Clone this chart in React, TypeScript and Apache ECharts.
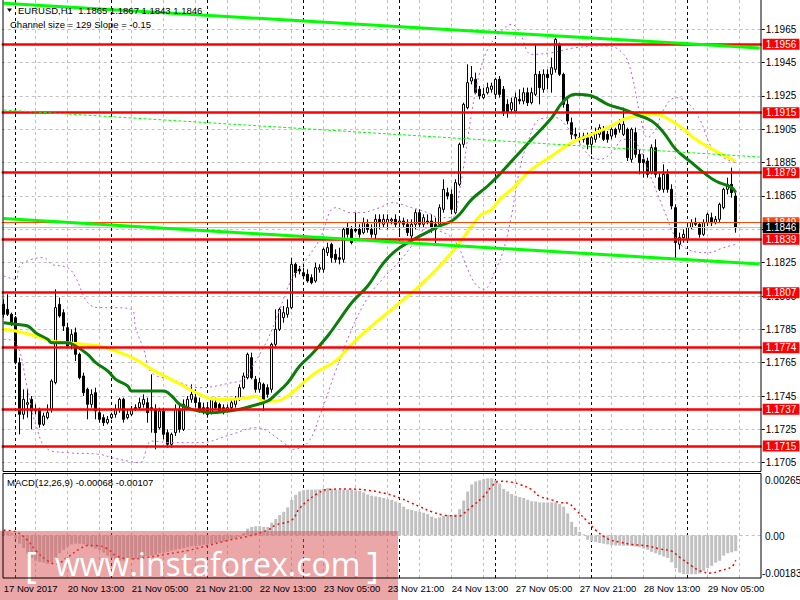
import React, { useEffect, useRef } from "react";
import * as echarts from "echarts";

const symbolName = "EURUSD,H1";
const lastQuote = { open: 1.1865, high: 1.1867, low: 1.1843, close: 1.1846 };
const channelText = "Channel size = 129 Slope = -0.15";

// hourly candles: [open, close, low, high]
const candles: number[][] = [
  [1.1800,1.1794,1.1792,1.1803],[1.1797,1.1794,1.1793,1.1806],[1.1794,1.1789,1.1787,1.1795],[1.1792,1.1765,1.1764,1.1793],[1.1765,1.1734,1.1722,1.1768],
  [1.1734,1.1743,1.1731,1.1749],[1.1740,1.1741,1.1732,1.1749],[1.1743,1.1736,1.1725,1.1745],[1.1737,1.1736,1.1734,1.1740],[1.1737,1.1728,1.1726,1.1738],
  [1.1728,1.1733,1.1727,1.1735],[1.1732,1.1735,1.1731,1.1740],[1.1737,1.1754,1.1735,1.1755],[1.1753,1.1798,1.1752,1.1809],[1.1800,1.1793,1.1792,1.1804],
  [1.1795,1.1787,1.1784,1.1797],[1.1786,1.1775,1.1774,1.1789],[1.1776,1.1782,1.1773,1.1785],[1.1783,1.1770,1.1766,1.1786],[1.1770,1.1756,1.1755,1.1771],
  [1.1757,1.1747,1.1745,1.1759],[1.1749,1.1740,1.1731,1.1750],[1.1740,1.1746,1.1738,1.1749],[1.1747,1.1736,1.1731,1.1750],[1.1735,1.1731,1.1729,1.1738],
  [1.1732,1.1729,1.1727,1.1734],[1.1729,1.1731,1.1728,1.1733],[1.1732,1.1734,1.1731,1.1735],[1.1734,1.1737,1.1732,1.1740],[1.1737,1.1743,1.1735,1.1744],
  [1.1743,1.1731,1.1729,1.1744],[1.1732,1.1734,1.1731,1.1737],[1.1734,1.1737,1.1733,1.1739],[1.1738,1.1737,1.1736,1.1740],[1.1738,1.1741,1.1737,1.1744],
  [1.1740,1.1743,1.1738,1.1746],[1.1741,1.1735,1.1729,1.1744],[1.1738,1.1737,1.1723,1.1758],[1.1737,1.1723,1.1713,1.1740],[1.1726,1.1736,1.1725,1.1738],
  [1.1736,1.1722,1.1719,1.1738],[1.1723,1.1716,1.1714,1.1725],[1.1716,1.1722,1.1714,1.1723],[1.1723,1.1737,1.1721,1.1740],[1.1737,1.1725,1.1723,1.1740],
  [1.1725,1.1740,1.1724,1.1743],[1.1738,1.1743,1.1737,1.1745],[1.1743,1.1746,1.1741,1.1752],[1.1744,1.1741,1.1738,1.1749],[1.1741,1.1737,1.1735,1.1744],
  [1.1738,1.1736,1.1734,1.1741],[1.1738,1.1734,1.1732,1.1740],[1.1735,1.1743,1.1734,1.1744],[1.1741,1.1738,1.1737,1.1744],[1.1740,1.1736,1.1735,1.1741],
  [1.1738,1.1735,1.1734,1.1740],[1.1736,1.1738,1.1735,1.1740],[1.1738,1.1741,1.1737,1.1743],[1.1740,1.1743,1.1738,1.1745],[1.1743,1.1750,1.1742,1.1752],
  [1.1750,1.1757,1.1749,1.1759],[1.1756,1.1770,1.1755,1.1771],[1.1768,1.1756,1.1755,1.1771],[1.1755,1.1749,1.1747,1.1757],[1.1749,1.1753,1.1747,1.1756],
  [1.1752,1.1741,1.1736,1.1753],[1.1750,1.1746,1.1744,1.1752],[1.1749,1.1776,1.1747,1.1777],[1.1776,1.1785,1.1774,1.1797],[1.1785,1.1797,1.1784,1.1798],
  [1.1792,1.1795,1.1789,1.1799],[1.1794,1.1798,1.1792,1.1803],[1.1798,1.1824,1.1797,1.1828],[1.1824,1.1819,1.1816,1.1825],[1.1821,1.1820,1.1818,1.1823],
  [1.1819,1.1817,1.1815,1.1822],[1.1818,1.1814,1.1813,1.1821],[1.1816,1.1813,1.1812,1.1818],[1.1814,1.1822,1.1813,1.1825],[1.1821,1.1822,1.1819,1.1824],
  [1.1821,1.1833,1.1819,1.1834],[1.1831,1.1834,1.1829,1.1837],[1.1836,1.1828,1.1825,1.1837],[1.1830,1.1827,1.1825,1.1833],[1.1828,1.1827,1.1824,1.1834],
  [1.1827,1.1845,1.1825,1.1846],[1.1846,1.1842,1.1840,1.1849],[1.1845,1.1837,1.1836,1.1847],[1.1845,1.1844,1.1843,1.1855],[1.1845,1.1842,1.1840,1.1848],
  [1.1843,1.1849,1.1842,1.1852],[1.1848,1.1845,1.1843,1.1851],[1.1845,1.1842,1.1840,1.1848],[1.1842,1.1851,1.1839,1.1854],[1.1851,1.1849,1.1845,1.1854],
  [1.1848,1.1851,1.1846,1.1854],[1.1849,1.1851,1.1845,1.1854],[1.1850,1.1851,1.1848,1.1852],[1.1851,1.1848,1.1846,1.1854],[1.1849,1.1850,1.1842,1.1852],
  [1.1850,1.1848,1.1846,1.1852],[1.1848,1.1843,1.1841,1.1851],[1.1841,1.1848,1.1839,1.1851],[1.1848,1.1855,1.1845,1.1857],[1.1855,1.1848,1.1846,1.1857],
  [1.1848,1.1852,1.1846,1.1854],[1.1850,1.1849,1.1848,1.1854],[1.1850,1.1846,1.1843,1.1854],[1.1848,1.1845,1.1836,1.1852],[1.1848,1.1858,1.1846,1.1860],
  [1.1857,1.1869,1.1855,1.1875],[1.1867,1.1865,1.1863,1.1870],[1.1866,1.1857,1.1854,1.1869],[1.1855,1.1873,1.1854,1.1875],[1.1872,1.1896,1.1871,1.1897],
  [1.1896,1.1920,1.1894,1.1921],[1.1918,1.1933,1.1917,1.1944],[1.1934,1.1936,1.1932,1.1943],[1.1935,1.1927,1.1926,1.1939],[1.1929,1.1925,1.1923,1.1931],
  [1.1924,1.1926,1.1923,1.1930],[1.1927,1.1930,1.1926,1.1933],[1.1929,1.1931,1.1927,1.1933],[1.1926,1.1935,1.1924,1.1936],[1.1935,1.1926,1.1924,1.1937],
  [1.1929,1.1915,1.1913,1.1931],[1.1920,1.1915,1.1912,1.1923],[1.1917,1.1921,1.1915,1.1924],[1.1916,1.1924,1.1915,1.1927],[1.1923,1.1922,1.1920,1.1929],
  [1.1922,1.1927,1.1920,1.1930],[1.1927,1.1921,1.1919,1.1930],[1.1921,1.1927,1.1920,1.1930],[1.1926,1.1938,1.1925,1.1956],[1.1938,1.1930,1.1920,1.1940],
  [1.1929,1.1938,1.1927,1.1941],[1.1938,1.1936,1.1929,1.1941],[1.1938,1.1942,1.1927,1.1948],[1.1941,1.1959,1.1939,1.1960],[1.1956,1.1938,1.1937,1.1957],
  [1.1938,1.1920,1.1918,1.1939],[1.1920,1.1910,1.1908,1.1923],[1.1909,1.1902,1.1899,1.1912],[1.1902,1.1901,1.1899,1.1906],[1.1899,1.1900,1.1897,1.1903],
  [1.1901,1.1899,1.1897,1.1903],[1.1900,1.1896,1.1893,1.1903],[1.1896,1.1900,1.1890,1.1902],[1.1899,1.1903,1.1897,1.1906],[1.1902,1.1906,1.1900,1.1908],
  [1.1905,1.1899,1.1898,1.1907],[1.1902,1.1899,1.1897,1.1904],[1.1901,1.1905,1.1899,1.1906],[1.1905,1.1902,1.1900,1.1906],[1.1905,1.1908,1.1903,1.1911],
  [1.1902,1.1908,1.1901,1.1918],[1.1905,1.1888,1.1886,1.1906],[1.1887,1.1905,1.1885,1.1906],[1.1903,1.1890,1.1888,1.1906],[1.1890,1.1885,1.1878,1.1893],
  [1.1887,1.1885,1.1876,1.1890],[1.1886,1.1878,1.1876,1.1888],[1.1879,1.1894,1.1878,1.1896],[1.1894,1.1878,1.1876,1.1899],[1.1876,1.1869,1.1868,1.1879],
  [1.1869,1.1878,1.1867,1.1884],[1.1878,1.1869,1.1867,1.1881],[1.1869,1.1859,1.1857,1.1872],[1.1858,1.1837,1.1827,1.1860],[1.1836,1.1840,1.1833,1.1843],
  [1.1840,1.1842,1.1837,1.1845],[1.1839,1.1846,1.1838,1.1848],[1.1846,1.1849,1.1845,1.1851],[1.1849,1.1848,1.1847,1.1852],[1.1848,1.1842,1.1840,1.1849],
  [1.1842,1.1849,1.1841,1.1851],[1.1849,1.1854,1.1847,1.1855],[1.1852,1.1849,1.1847,1.1855],[1.1849,1.1851,1.1848,1.1853],[1.1851,1.1860,1.1849,1.1861],
  [1.1858,1.1869,1.1857,1.1870],[1.1869,1.1872,1.1866,1.1876],[1.1872,1.1867,1.1864,1.1882],[1.1865,1.1846,1.1843,1.1867],
];

// moving averages and Bollinger bands: [candle index, price]
const maGreen: number[][] = [
  [0,1.1789],[3,1.1788],[6,1.1787],[8,1.1783],[11,1.1779],[12,1.1777],[16,1.1777],[18,1.1775],[21,1.1770],[23,1.1765],
  [26,1.1760],[28,1.1755],[31,1.1751],[32,1.1748],[37,1.1748],[40,1.1748],[42,1.1745],[44,1.1740],[47,1.1737],[49,1.1736],
  [52,1.1735],[56,1.1736],[59,1.1737],[62,1.1739],[66,1.1742],[68,1.1746],[71,1.1753],[74,1.1763],[77,1.1770],[81,1.1781],
  [84,1.1791],[87,1.1801],[91,1.1811],[95,1.1825],[99,1.1834],[109,1.1847],[112,1.1850],[114,1.1854],[117,1.1863],[121,1.1871],
  [124,1.1878],[127,1.1886],[132,1.1899],[137,1.1912],[140,1.1922],[143,1.1926],[147,1.1925],[151,1.1920],[155,1.1917],[158,1.1914],
  [162,1.1910],[165,1.1903],[168,1.1893],[172,1.1885],[175,1.1879],[178,1.1874],[182,1.1870],[183,1.1867],
];
const maYellow: number[][] = [
  [0,1.1785],[3,1.1784],[8,1.1781],[12,1.1778],[16,1.1777],[20,1.1776],[24,1.1775],[28,1.1772],[33,1.1767],[37,1.1761],
  [41,1.1756],[45,1.1751],[49,1.1746],[53,1.1743],[57,1.1743],[61,1.1744],[63,1.1745],[65,1.1742],[68,1.1742],[71,1.1745],
  [74,1.1751],[78,1.1759],[83,1.1766],[87,1.1776],[91,1.1785],[95,1.1793],[99,1.1801],[103,1.1809],[109,1.1823],[114,1.1837],
  [119,1.1853],[122,1.1857],[124,1.1863],[127,1.1869],[132,1.1881],[137,1.1889],[142,1.1897],[147,1.1902],[151,1.1906],[155,1.1911],
  [158,1.1913],[163,1.1914],[167,1.1910],[170,1.1905],[173,1.1899],[178,1.1892],[183,1.1886],
];
const bbUpper: number[][] = [
  [0,1.1817],[3,1.1815],[4,1.1823],[7,1.1827],[10,1.1828],[12,1.1824],[16,1.1822],[18,1.1816],[21,1.1801],[24,1.1798],
  [27,1.1798],[32,1.1797],[33,1.1786],[35,1.1773],[37,1.1759],[42,1.1755],[49,1.1750],[57,1.1753],[60,1.1755],[62,1.1762],
  [66,1.1779],[69,1.1797],[72,1.1815],[76,1.1828],[79,1.1839],[83,1.1858],[87,1.1855],[89,1.1855],[94,1.1858],[97,1.1861],
  [102,1.1858],[106,1.1855],[109,1.1852],[112,1.1852],[114,1.1869],[117,1.1915],[119,1.1939],[121,1.1953],[124,1.1963],[127,1.1968],
  [129,1.1963],[132,1.1950],[137,1.1951],[143,1.1954],[151,1.1955],[155,1.1950],[157,1.1938],[159,1.1915],[161,1.1900],[163,1.1905],
  [165,1.1917],[168,1.1924],[171,1.1921],[174,1.1911],[177,1.1894],[180,1.1888],[183,1.1885],
];
const bbLower: number[][] = [
  [0,1.1779],[3,1.1777],[6,1.1749],[8,1.1728],[11,1.1713],[16,1.1711],[24,1.1710],[27,1.1708],[31,1.1706],[34,1.1705],
  [37,1.1718],[42,1.1717],[49,1.1717],[57,1.1722],[63,1.1726],[70,1.1717],[72,1.1713],[76,1.1717],[79,1.1733],[83,1.1760],
  [87,1.1785],[91,1.1804],[95,1.1816],[99,1.1826],[103,1.1838],[106,1.1846],[109,1.1844],[112,1.1840],[114,1.1833],[116,1.1821],
  [118,1.1812],[120,1.1809],[123,1.1821],[125,1.1833],[127,1.1854],[129,1.1881],[131,1.1897],[134,1.1911],[138,1.1912],[141,1.1906],
  [143,1.1900],[147,1.1888],[149,1.1887],[152,1.1891],[155,1.1899],[158,1.1897],[161,1.1881],[165,1.1857],[168,1.1840],[171,1.1833],
  [176,1.1831],[180,1.1834],[183,1.1836],
];

// linear regression channel (end points)
const channelUpper: number[][] = [[0, 1.19807], [189, 1.19538]];
const channelMid: number[][] = [[0, 1.19166], [189, 1.18884]];
const channelLower: number[][] = [[0, 1.18515], [189, 1.18242]];

// horizontal levels
const levels = [1.1956, 1.1915, 1.1879, 1.1839, 1.1807, 1.1774, 1.1737, 1.1715];
const askLine = 1.1849;
const bidLine = 1.1846;

// MACD(12,26,9)
const macdMain = [
  0.00020,0.00016,0.00010,-0.00015,-0.00036,-0.00054,-0.00080,-0.00097,-0.00109,-0.00114,
  -0.00117,-0.00123,-0.00116,-0.00094,-0.00077,-0.00062,-0.00048,-0.00039,-0.00036,-0.00036,
  -0.00039,-0.00045,-0.00051,-0.00057,-0.00065,-0.00074,-0.00087,-0.00097,-0.00104,-0.00109,
  -0.00109,-0.00109,-0.00104,-0.00100,-0.00097,-0.00094,-0.00090,-0.00087,-0.00083,-0.00077,
  -0.00074,-0.00071,-0.00065,-0.00062,-0.00059,-0.00055,-0.00051,-0.00048,-0.00045,-0.00044,
  -0.00041,-0.00039,-0.00036,-0.00033,-0.00030,-0.00026,-0.00022,-0.00019,-0.00013,-0.00007,
  0.00010,0.00029,0.00036,0.00039,0.00039,0.00036,0.00036,0.00054,0.00070,0.00087,
  0.00101,0.00120,0.00152,0.00174,0.00188,0.00194,0.00196,0.00196,0.00196,0.00197,
  0.00200,0.00202,0.00199,0.00196,0.00194,0.00196,0.00196,0.00196,0.00193,0.00190,
  0.00184,0.00175,0.00170,0.00167,0.00164,0.00160,0.00155,0.00152,0.00145,0.00138,
  0.00123,0.00112,0.00109,0.00104,0.00101,0.00097,0.00091,0.00080,0.00073,0.00077,
  0.00084,0.00087,0.00087,0.00090,0.00112,0.00149,0.00188,0.00218,0.00231,0.00236,
  0.00241,0.00244,0.00244,0.00236,0.00222,0.00199,0.00188,0.00177,0.00170,0.00164,
  0.00160,0.00152,0.00146,0.00145,0.00141,0.00141,0.00141,0.00141,0.00141,0.00134,
  0.00123,0.00094,0.00058,0.00036,0.00015,0.00004,-0.00019,-0.00026,-0.00029,-0.00033,
  -0.00036,-0.00039,-0.00042,-0.00044,-0.00044,-0.00045,-0.00045,-0.00045,-0.00048,-0.00051,
  -0.00057,-0.00062,-0.00071,-0.00077,-0.00084,-0.00091,-0.00097,-0.00116,-0.00141,-0.00160,
  -0.00167,-0.00167,-0.00167,-0.00167,-0.00164,-0.00152,-0.00141,-0.00131,-0.00117,-0.00109,
  -0.00087,-0.00077,-0.00073,-0.00068,
];
const macdSignal: number[][] = [
  [0,0.00022],[3,0.00015],[6,-0.00022],[8,-0.00065],[11,-0.00109],[13,-0.00123],[16,-0.00094],[19,-0.00058],[21,-0.00044],[23,-0.00044],
  [26,-0.00058],[28,-0.00087],[32,-0.00101],[35,-0.00097],[41,-0.00080],[46,-0.00065],[51,-0.00044],[56,-0.00022],[61,-0.00004],[66,0.00022],
  [68,0.00044],[72,0.00065],[74,0.00116],[78,0.00174],[81,0.00196],[86,0.00199],[91,0.00193],[95,0.00181],[99,0.00160],[102,0.00138],
  [104,0.00123],[107,0.00101],[110,0.00087],[114,0.00083],[115,0.00094],[117,0.00123],[120,0.00167],[122,0.00210],[124,0.00232],[127,0.00228],
  [129,0.00218],[132,0.00196],[134,0.00167],[137,0.00152],[139,0.00141],[141,0.00138],[143,0.00109],[146,0.00058],[148,0.00022],[151,-0.00015],
  [154,-0.00029],[157,-0.00039],[161,-0.00046],[164,-0.00058],[167,-0.00068],[169,-0.00094],[172,-0.00131],[174,-0.00152],[177,-0.00162],[179,-0.00152],
  [182,-0.00135],[183,-0.00107],
];
const macdMax = 0.00265;
const macdMin = -0.00183;

// time axis
const timeTickIdx = [0, 16, 32, 48, 64, 80, 96, 112, 128, 144, 160, 176];
const timeTickText = [
  "17 Nov 2017", "20 Nov 13:00", "21 Nov 05:00", "21 Nov 21:00", "22 Nov 13:00", "23 Nov 05:00",
  "23 Nov 21:00", "24 Nov 13:00", "27 Nov 05:00", "27 Nov 21:00", "28 Nov 13:00", "29 Nov 05:00",
];
const dayStartIdx = [3, 27, 51, 75, 99, 123, 147, 171];
const grayGridIdx = [8,16,24,32,40,48,56,64,72,80,88,96,104,112,120,128,136,144,152,160,168,176,184];
const slotCount = 190; // 184 bars + right shift

const FONT = "'Liberation Sans', Arial, sans-serif";

export default function App() {
  const ref = useRef<HTMLDivElement>(null);
  useEffect(() => {
    if (!ref.current) return;
    const chart = echarts.init(ref.current, null, { renderer: "svg" });
    const cats = Array.from({ length: slotCount }, (_, i) => String(i));
    const L = 1.7;
    const W = 760;

    const vLines = [
      ...grayGridIdx.map((i) => ({ xAxis: i, lineStyle: { color: "#c0c0c0", type: [3, 3], width: 1 } })),
      ...dayStartIdx.map((i) => ({ xAxis: i, lineStyle: { color: "#000000", type: [3, 3], width: 1 } })),
    ];
    const vMark = {
      silent: true, symbol: "none", z: 1, animation: false,
      label: { show: false }, emphasis: { disabled: true },
      data: vLines,
    };
    const lineSeries = (name: string, data: number[][], color: string, width: number, type: any, z: number, smooth: any) => ({
      name, type: "line", xAxisIndex: 0, yAxisIndex: 0, data, symbol: "none", smooth,
      lineStyle: { color, width, type }, z, silent: true, animation: false,
    });
    const labelBox = (bg: string) => ({
      show: true, position: "end", distance: 1, color: "#ffffff", backgroundColor: bg,
      padding: [1, 3, 0, 3], fontSize: 10, lineHeight: 10, fontFamily: FONT,
      formatter: (p: any) => Number(p.value).toFixed(4),
    });

    const option: any = {
      animation: false,
      backgroundColor: "#ffffff",
      textStyle: { fontFamily: FONT },
      grid: [
        { left: L, top: 0, width: W, height: 471 },
        { left: L, top: 29.3, width: W, height: 433.4 },
        { left: L, top: 473.5, width: W, height: 104.5 },
      ],
      xAxis: [
        { type: "category", gridIndex: 0, data: cats, show: false },
        { type: "category", gridIndex: 1, data: cats, show: false },
        {
          type: "category", gridIndex: 2, data: cats, z: 60,
          axisLine: { show: false }, axisTick: { show: false }, splitLine: { show: false },
          axisLabel: {
            interval: (i: number) => timeTickIdx.includes(i),
            formatter: (_v: string, i: number) => {
              const k = timeTickIdx.indexOf(i);
              return k >= 0 ? timeTickText[k] : "";
            },
            align: "left", margin: 5, fontSize: 9.5, color: "#000000", hideOverlap: false, fontFamily: FONT,
          },
        },
      ],
      yAxis: [
        { type: "value", gridIndex: 0, min: 1.17, max: 1.19826, show: false },
        {
          type: "value", gridIndex: 1, min: 1.1705, max: 1.1965, interval: 0.002, position: "right",
          axisLine: { show: false },
          axisTick: { show: true, length: 3, lineStyle: { color: "#000000" } },
          axisLabel: { formatter: (v: number) => v.toFixed(4), fontSize: 10, color: "#000000", margin: 4, fontFamily: FONT },
          splitLine: { show: true, lineStyle: { color: "#c0c0c0", type: [3, 3], width: 1 } },
        },
        { type: "value", gridIndex: 2, min: macdMin, max: macdMax, show: false },
      ],
      series: [
        { name: "vgrid", type: "line", xAxisIndex: 0, yAxisIndex: 0, data: [], markLine: vMark },
        { name: "vgrid2", type: "line", xAxisIndex: 2, yAxisIndex: 2, data: [], markLine: vMark },
        {
          name: "EURUSD", type: "candlestick", xAxisIndex: 0, yAxisIndex: 0, data: candles,
          barWidth: 2, z: 2, silent: true,
          itemStyle: { color: "#ffffff", color0: "#000000", borderColor: "#000000", borderColor0: "#000000", borderWidth: 1 },
        },
        lineSeries("BB upper", bbUpper, "#b860d8", 1, [2, 3], 3, 0.4),
        lineSeries("BB lower", bbLower, "#b860d8", 1, [2, 3], 3, 0.4),
        lineSeries("MA yellow", maYellow, "#ffff00", 3, "solid", 4, 0.4),
        lineSeries("MA green", maGreen, "#0a7d0a", 3, "solid", 4, 0.4),
        {
          name: "levels", type: "line", xAxisIndex: 0, yAxisIndex: 0, data: [], z: 6,
          markLine: {
            silent: true, symbol: "none", z: 6, precision: 5, animation: false, emphasis: { disabled: true },
            lineStyle: { color: "#ff0000", width: 2.5, type: "solid" },
            label: labelBox("#ff0000"),
            data: levels.map((v) => ({ yAxis: v })),
          },
        },
        {
          name: "quotes", type: "line", xAxisIndex: 0, yAxisIndex: 0, data: [], z: 6,
          markLine: {
            silent: true, symbol: "none", z: 6, precision: 5, animation: false, emphasis: { disabled: true },
            data: [
              { yAxis: askLine, lineStyle: { color: "#ff4500", width: 1, type: "solid" }, label: labelBox("#ff4500") },
              { yAxis: bidLine, lineStyle: { color: "#c0c0c0", width: 1, type: "solid" }, label: labelBox("#000000") },
            ],
          },
        },
        lineSeries("channel upper", channelUpper, "#00ff00", 3, "solid", 7, false),
        lineSeries("channel lower", channelLower, "#00ff00", 3, "solid", 7, false),
        lineSeries("channel mid", channelMid, "#00ff00", 1, [3, 2], 7, false),
        {
          name: "MACD", type: "bar", xAxisIndex: 2, yAxisIndex: 2, data: macdMain, barWidth: 3, z: 2, silent: true,
          itemStyle: { color: "#c0c0c0" },
          markLine: {
            silent: true, symbol: "none", z: 1, animation: false, label: { show: false },
            lineStyle: { color: "#c0c0c0", type: [3, 3], width: 1 },
            data: [{ yAxis: 0 }],
          },
        },
        {
          name: "Signal", type: "line", xAxisIndex: 2, yAxisIndex: 2, data: macdSignal, symbol: "none", smooth: 0.4,
          lineStyle: { color: "#ff0000", width: 1.5, type: [2, 3] }, z: 3, silent: true,
        },
      ],
      graphic: {
        elements: [
          { type: "rect", z: 100, silent: true, shape: { x: 3, y: -1, width: 758, height: 472.5 }, style: { fill: "none", stroke: "#000", lineWidth: 1 } },
          { type: "rect", z: 100, silent: true, shape: { x: 3, y: 473.5, width: 758, height: 104.5 }, style: { fill: "none", stroke: "#000", lineWidth: 1 } },
          { type: "polygon", z: 100, silent: true, shape: { points: [[7, 8.5], [12, 8.5], [9.5, 12]] }, style: { fill: "#000" } },
          {
            type: "text", z: 100, silent: true, x: 18, y: 10.5,
            style: {
              text: `${symbolName}  ${lastQuote.open.toFixed(4)} ${lastQuote.high.toFixed(4)} ${lastQuote.low.toFixed(4)} ${lastQuote.close.toFixed(4)}`,
              fill: "#000", fontSize: 9.5, fontFamily: FONT, verticalAlign: "middle",
            },
          },
          { type: "text", z: 100, silent: true, x: 10, y: 24, style: { text: channelText, fill: "#000", fontSize: 9.5, fontFamily: FONT, verticalAlign: "middle" } },
          {
            type: "text", z: 100, silent: true, x: 7, y: 482.5,
            style: {
              text: `MACD(12,26,9) ${macdMain[macdMain.length - 1].toFixed(5)} ${macdSignal[macdSignal.length - 1][1].toFixed(5)}`,
              fill: "#000", fontSize: 9.5, fontFamily: FONT, verticalAlign: "middle",
            },
          },
          { type: "text", z: 100, silent: true, x: 765, y: 480, style: { text: macdMax.toFixed(5), fill: "#000", fontSize: 10, fontFamily: FONT, verticalAlign: "middle" } },
          { type: "text", z: 100, silent: true, x: 765, y: 536, style: { text: "0.00", fill: "#000", fontSize: 10, fontFamily: FONT, verticalAlign: "middle" } },
          { type: "text", z: 100, silent: true, x: 762, y: 573, style: { text: macdMin.toFixed(5), fill: "#000", fontSize: 10, fontFamily: FONT, verticalAlign: "middle" } },
          { type: "rect", z: 50, silent: true, shape: { x: 0, y: 531, width: 398, height: 69 }, style: { fill: "rgba(215,80,80,0.5)" } },
          { type: "text", z: 51, silent: true, x: 25, y: 564, style: { text: "[", fill: "#ffffff", fontSize: 36, fontFamily: "'Open Sans', sans-serif", verticalAlign: "middle" } },
          { type: "text", z: 51, silent: true, x: 55, y: 563, style: { text: "www.instaforex.com", fill: "#ffffff", fontSize: 32, fontFamily: "'Open Sans', sans-serif", verticalAlign: "middle" } },
          { type: "text", z: 51, silent: true, x: 367, y: 564, style: { text: "]", fill: "#ffffff", fontSize: 36, fontFamily: "'Open Sans', sans-serif", verticalAlign: "middle" } },
        ],
      },
    };
    chart.setOption(option);
    return () => chart.dispose();
  }, []);
  return <div ref={ref} style={{ position: "fixed", left: 0, top: 0, width: 800, height: 600, background: "#fff" }} />;
}
